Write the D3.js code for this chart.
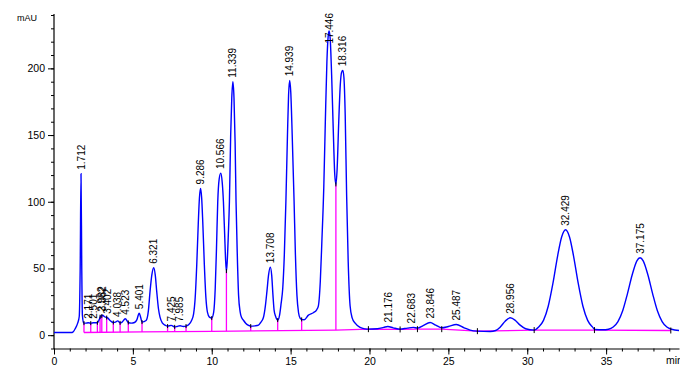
<!DOCTYPE html>
<html><head><meta charset="utf-8">
<script src="https://cdn.jsdelivr.net/npm/d3@7"></script>
<style>body{margin:0;background:#fff}svg{display:block}text{font-family:"Liberation Sans",Arial,sans-serif}</style>
</head><body>
<svg id="c" width="700" height="379"></svg>
<script>
// ---- data ----
const traceTime = [0,1.15,1.22,1.35,1.5,1.6,1.66,1.712,1.76,1.8,1.88,2.0,2.17,2.33,2.5,2.75,2.88,2.98,3.03,3.08,3.2,3.4,3.55,3.76,3.9,4.04,4.19,4.3,4.52,4.71,4.9,5.1,5.25,5.4,5.5,5.58,5.84,5.98,6.09,6.2,6.32,6.42,6.51,6.62,6.72,6.88,7.04,7.2,7.43,7.65,7.8,7.99,8.2,8.37,8.55,8.72,8.85,8.95,9.05,9.15,9.22,9.29,9.36,9.43,9.53,9.63,9.73,9.85,10.0,10.12,10.22,10.3,10.38,10.47,10.57,10.66,10.74,10.82,10.88,10.93,10.98,11.05,11.12,11.2,11.27,11.34,11.41,11.48,11.54,11.62,11.7,11.8,11.9,12.0,12.15,12.3,12.47,12.75,12.96,13.1,13.27,13.4,13.5,13.6,13.71,13.8,13.88,13.95,14.05,14.18,14.3,14.4,14.5,14.6,14.7,14.8,14.87,14.94,15.01,15.1,15.22,15.3,15.4,15.5,15.6,15.7,15.85,16.13,16.44,16.65,16.76,16.88,16.98,17.1,17.2,17.3,17.38,17.44,17.51,17.6,17.7,17.8,17.87,17.95,18.05,18.15,18.23,18.31,18.38,18.46,18.55,18.65,18.77,18.9,19.09,19.4,19.72,19.93,20.5,20.9,21.16,21.5,21.94,22.4,22.78,23.04,23.4,23.84,24.2,24.58,25.0,25.5,26.0,26.38,26.84,27.65,28.0,28.28,28.6,28.92,29.25,29.55,29.9,30.44,30.73,31.03,31.33,31.63,31.93,32.18,32.43,32.68,32.93,33.23,33.53,33.83,34.13,34.3,34.8,35.15,35.45,35.75,36.05,36.35,36.65,36.95,37.15,37.35,37.65,37.95,38.25,38.55,38.85,39.15,39.62];
const traceSignal = [2,2,2.5,5,9,14,50,121,50,15,9,9,9.3,9,9.3,9.3,12,14.5,14.3,15,13.8,13,11,9.5,9.8,10.7,9.2,9.6,12.3,9.5,9,9.5,11.5,16.5,13,9.8,11,18,33,45,50.5,45,33,20,13.5,9,7.5,6.8,7.3,6.2,6.5,7,6.5,6.8,8,11,16,28,53,85,103,110,103,85,53,28,17,13.5,12.8,17,35,65,100,117,121.5,115,100,75,56,48,55,75,100,150,178,190,178,145,100,60,30,17.5,13,11.3,9,7.5,6.8,7,7.5,9.5,13,22,33,45,51,45,30,19,14,11.3,15,24,35,60,100,150,180,191,182,150,100,62,30,17,12.8,11.8,11.5,15,16.8,19,22,40,70,110,160,205,224,228,222,195,155,120,113,125,160,188,197,198.5,193,165,105,55,22,13,9,5.8,4.7,4.5,4.8,5.8,6.5,5.5,4.5,5.3,5.8,5.3,7.2,9.5,7.5,5.5,6.5,8,5.5,3.8,3.0,2.7,3.5,6,10.5,13,11,7.5,4.8,3.8,6.2,11.1,21.7,39,59.7,73.6,79,73.6,59.7,39,21.7,11.1,6.2,4.2,4.0,4.4,6.1,10.2,18.3,31,45.1,55.7,58,55.7,45.1,31,18.3,10.2,6.1,4.4,3.5];

const peakLabels = ["1.712","2.171","2.501","2.982","3.082","3.402","4.038","4.523","5.401","6.321","7.425","7.985","9.286","10.566","11.339","13.708","14.939","17.446","18.316","21.176","22.683","23.846","25.487","28.956","32.429","37.175"];
const peakHeights = [121,9.3,9.3,14.5,15,13,10.7,12.3,16.5,50.5,7.3,7,110,121.5,190,51,191,228,198.5,6.5,5.8,9.5,8,13,79,58];

const dropTimes = [1.9,2.33,2.75,2.92,3.03,3.34,3.76,4.19,4.71,5.58,7.2,7.65,8.37,10.0,10.93,12.47,14.18,15.7,17.87];
const dropTops  = [9,9,9.3,13.8,14.3,13.2,9.5,9.2,9.5,9.8,6.8,6.2,6.8,12.8,48,6.8,11.3,11.8,113];

const baseTimes  = [1.9,5.58,10.0,17.87,19.93,21.94,23.04,24.58,26.84,30.44,34.26,39.1];
const baseValues = [2.0,2.4,2.9,3.8,4.5,4.3,4.5,4.5,3.0,3.8,3.8,3.5];

const eventTimes = [19.93,21.94,23.04,24.58,26.84,30.44,34.26,39.1];

const xMajorTicks = [0,5,10,15,20,25,30,35];
const yMajorTicks = [0,50,100,150,200];
const yUnit = "mAU";
const xUnit = "min";

// ---- drawing ----
const svg = d3.select("#c");
const x = d3.scaleLinear().domain([0, 39.62]).range([54, 679]);
const y = d3.scaleLinear().domain([-10, 240]).range([348.5, 15]);
const font = '"Liberation Sans",Arial,sans-serif';

svg.append("defs").append("clipPath").attr("id","clipR")
  .append("rect").attr("x",0).attr("y",0).attr("width",680).attr("height",379);

// axes
const xMinor = d3.range(0, 40, 1);
const yMinor = d3.range(-10, 241, 10);

svg.append("g").attr("transform","translate(0,348.5)")
  .call(d3.axisBottom(x).tickValues(xMinor).tickSize(3).tickSizeOuter(0).tickFormat(""))
  .call(g=>g.select(".domain").attr("stroke","#000").attr("stroke-width",1.2));
svg.append("g").attr("transform","translate(0,348.5)")
  .call(d3.axisBottom(x).tickValues(xMajorTicks).tickSize(6).tickSizeOuter(0).tickFormat(d3.format("d")).tickPadding(3))
  .call(g=>{g.select(".domain").remove();
            g.selectAll("text").attr("font-size","10.5px").attr("font-family",font).attr("fill","#000");});

svg.append("g").attr("transform","translate(54,0)")
  .call(d3.axisLeft(y).tickValues(yMinor).tickSize(3).tickSizeOuter(0).tickFormat(""))
  .call(g=>g.select(".domain").attr("stroke","#000").attr("stroke-width",1.2).attr("d","M0,349V14"));
svg.append("g").attr("transform","translate(54,0)")
  .call(d3.axisLeft(y).tickValues(yMajorTicks).tickSize(6).tickSizeOuter(0).tickFormat(d3.format("d")).tickPadding(3))
  .call(g=>{g.select(".domain").remove();
            g.selectAll("text").attr("font-size","10.5px").attr("font-family",font).attr("fill","#000");});

svg.append("text").attr("x",17).attr("y",21).attr("font-size","9px").attr("fill","#000").text(yUnit);
svg.append("text").attr("x",666).attr("y",364).attr("font-size","10.5px").attr("fill","#000")
  .attr("clip-path","url(#clipR)").text(xUnit);

// baseline (pink)
const bl = d3.line().x((d,i)=>x(baseTimes[i])).y((d,i)=>y(baseValues[i]));
svg.append("path").attr("d", bl(baseTimes)).attr("fill","none").attr("stroke","#ff00ff").attr("stroke-width",1.3);

// drop lines
const baseAt = d3.scaleLinear().domain(baseTimes).range(baseValues);
svg.append("g").selectAll("line").data(dropTimes).join("line")
  .attr("x1",d=>x(d)).attr("x2",d=>x(d))
  .attr("y1",d=>y(baseAt(d))).attr("y2",(d,i)=>y(dropTops[i]))
  .attr("stroke","#ff00ff").attr("stroke-width",1.3);

// trace
const line = d3.line().x((d,i)=>x(traceTime[i])).y((d,i)=>y(traceSignal[i])).curve(d3.curveMonotoneX);
svg.append("path").attr("d", line(traceTime)).attr("fill","none").attr("stroke","#0000ff").attr("stroke-width",1.4);

// event marks
svg.append("g").selectAll("line").data(dropTimes).join("line")
  .attr("x1",d=>x(d)).attr("x2",d=>x(d))
  .attr("y1",(d,i)=>y(dropTops[i])-2).attr("y2",(d,i)=>y(dropTops[i])+2)
  .attr("stroke","#000").attr("stroke-width",1);
svg.append("g").selectAll("line").data(eventTimes).join("line")
  .attr("x1",d=>x(d)).attr("x2",d=>x(d))
  .attr("y1",d=>y(baseAt(d))-3).attr("y2",d=>y(baseAt(d))+3)
  .attr("stroke","#000").attr("stroke-width",1);

// peak labels
const plotTop = 13;
const lg = svg.append("g");
peakLabels.forEach((lab,i)=>{
  const px = x(+lab) + 3.5;
  const t = lg.append("text").attr("font-size","10px").attr("fill","#000").text(lab);
  const len = t.node().getComputedTextLength();
  const py = Math.max(y(peakHeights[i]) - 4, plotTop + len);
  t.attr("transform",`translate(${px},${py}) rotate(-90)`);
});
</script>
</body></html>
